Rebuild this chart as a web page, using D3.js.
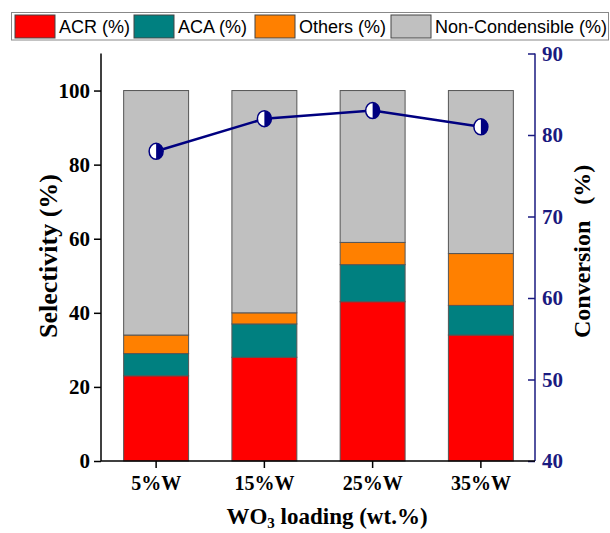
<!DOCTYPE html>
<html><head><meta charset="utf-8">
<script src="https://cdn.jsdelivr.net/npm/d3@7"></script>
<style>body{margin:0;background:#fff}svg{display:block}</style>
</head><body>
<svg id="c" width="610" height="533"></svg>
<script>
const categories = ["5%W","15%W","25%W","35%W"];
const seriesNames = ["ACR (%)","ACA (%)","Others (%)","Non-Condensible (%)"];
const acr = [23, 28, 43, 34];
const aca = [6, 9, 10, 8];
const others = [5, 3, 6, 14];
const nonCond = [66, 60, 41, 44];
const conversion = [78, 82, 83, 81];
const leftTicks = [0,20,40,60,80,100];
const rightTicks = [40,50,60,70,80,90];
const colors = ["#ff0000","#008080","#ff8000","#c0c0c0"];

const svg = d3.select("#c");
const L = 101, R = 535, T = 53.5, B = 461;
const x = d3.scaleBand().domain(categories).range([102, 535]).paddingInner(0.4).paddingOuter(0.2);
const y = d3.scaleLinear().domain([0,110]).range([B,T]);
const y2 = d3.scaleLinear().domain([40,90]).range([B,T]);

const rows = categories.map((c,i)=>({cat:c, s0:acr[i], s1:aca[i], s2:others[i], s3:nonCond[i]}));
const stack = d3.stack().keys(["s0","s1","s2","s3"])(rows);

const serif = "'Liberation Serif','Times New Roman',serif";

// bars
svg.append("g").selectAll("g").data(stack).join("g")
  .attr("fill",(d,i)=>colors[i])
  .selectAll("rect").data(d=>d).join("rect")
  .attr("x",d=>x(d.data.cat)).attr("width",x.bandwidth())
  .attr("y",d=>y(d[1])).attr("height",d=>y(d[0])-y(d[1]))
  .attr("stroke","#555").attr("stroke-width",1);

function styleTicks(g, size, color){
  g.attr("font-family",null).attr("font-size",null);
  g.selectAll("text").style("font-family",serif).style("font-weight","bold")
    .style("font-size",size+"px").attr("fill",color);
}

// left axis
const gl = svg.append("g").attr("transform",`translate(${L},0)`)
  .call(d3.axisLeft(y).tickValues(leftTicks).tickSize(7).tickPadding(4).tickFormat(d3.format("d")));
gl.select(".domain").attr("d",`M0,${T}V${B}`).attr("stroke","#000").attr("stroke-width",1.5);
gl.selectAll(".tick line").attr("stroke","#000").attr("stroke-width",1.5);
styleTicks(gl, 21, "#000");

// right axis
const navy = "#1a1a80";
const gr = svg.append("g").attr("transform",`translate(${R},0)`)
  .call(d3.axisRight(y2).tickValues(rightTicks).tickSize(-7).tickPadding(7).tickFormat(d3.format("d")));
gr.select(".domain").attr("d",`M0,${T}V${B}`).attr("stroke",navy).attr("stroke-width",1.5);
gr.selectAll(".tick line").attr("stroke",navy).attr("stroke-width",1.5);
styleTicks(gr, 21, navy);

// bottom axis
const gb = svg.append("g").attr("transform",`translate(0,${B})`)
  .call(d3.axisBottom(x).tickSize(7).tickPadding(8));
gb.select(".domain").attr("d",`M${L},0H${R}`).attr("stroke","#000").attr("stroke-width",1.5);
gb.selectAll(".tick line").attr("stroke","#000").attr("stroke-width",1.5);
styleTicks(gb, 20, "#000");

// conversion line
const cx = i => x(categories[i]) + x.bandwidth()/2;
svg.append("path").datum(conversion)
  .attr("d", d3.line().x((d,i)=>cx(i)).y(d=>y2(d)))
  .attr("fill","none").attr("stroke","#000080").attr("stroke-width",2.5);
const mk = svg.append("g").selectAll("g").data(conversion).join("g")
  .attr("transform",(d,i)=>`translate(${cx(i)},${y2(d)})`);
const rx = 7, ry = 8;
mk.append("ellipse").attr("rx",rx).attr("ry",ry).attr("fill","#fff");
mk.append("path").attr("d",`M0,${-ry}A${rx},${ry} 0 0 1 0,${ry}Z`).attr("fill","#000080");
mk.append("ellipse").attr("rx",rx).attr("ry",ry).attr("fill","none").attr("stroke","#000080").attr("stroke-width",1.5);

// axis titles
svg.append("text").attr("transform","translate(57,256) rotate(-90)").attr("text-anchor","middle")
  .attr("font-family",serif).attr("font-weight","bold").attr("font-size",26).text("Selectivity (%)");
const ct = svg.append("text").attr("transform","translate(590,338) rotate(-90)").attr("text-anchor","start")
  .attr("font-family",serif).attr("font-weight","bold").attr("font-size",24);
ct.append("tspan").text("Conversion");
ct.append("tspan").attr("dx",16).text("(%)");
const xt = svg.append("text").attr("x",327).attr("y",524).attr("text-anchor","middle")
  .attr("font-family",serif).attr("font-weight","bold").attr("font-size",23);
xt.append("tspan").text("WO");
xt.append("tspan").attr("font-size",15).attr("dy",4).text("3");
xt.append("tspan").attr("dy",-4).text(" loading (wt.%)");

// legend
svg.append("rect").attr("x",11.5).attr("y",12.5).attr("width",597).attr("height",27.5)
  .attr("fill","#fff").attr("stroke","#888").attr("stroke-width",1);
const legX = [15, 134, 255, 391];
const lg = svg.append("g").selectAll("g").data(seriesNames).join("g")
  .attr("transform",(d,i)=>`translate(${legX[i]},15)`);
lg.append("rect").attr("width",40).attr("height",23).attr("fill",(d,i)=>colors[i])
  .attr("stroke","#444").attr("stroke-width",1);
lg.append("text").attr("x",44).attr("y",18).attr("font-family","'Liberation Sans',Arial,sans-serif")
  .attr("font-size",18).attr("fill","#000").text(d=>d);
</script>
</body></html>
